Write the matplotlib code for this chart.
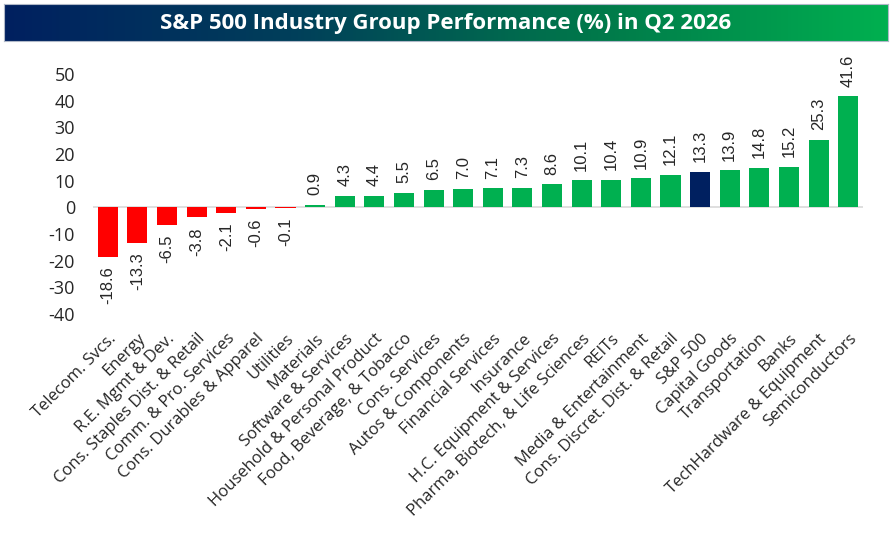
import numpy as np
import matplotlib.pyplot as plt
from matplotlib.colors import LinearSegmentedColormap

categories = [
    "Telecom. Svcs.", "Energy", "R.E. Mgmt & Dev.", "Cons. Staples Dist. & Retail",
    "Comm. & Pro. Services", "Cons. Durables & Apparel", "Utilities", "Materials",
    "Software & Services", "Household & Personal Product", "Food, Beverage, & Tobacco",
    "Cons. Services", "Autos & Components", "Financial Services", "Insurance",
    "H.C. Equipment & Services", "Pharma, Biotech, & Life Sciences", "REITs",
    "Media & Entertainment", "Cons. Discret. Dist. & Retail", "S&P 500",
    "Capital Goods", "Transportation", "Banks", "TechHardware & Equipment",
    "Semiconductors",
]
values = [-18.6, -13.3, -6.5, -3.8, -2.1, -0.6, -0.1, 0.9, 4.3, 4.4, 5.5, 6.5,
          7.0, 7.1, 7.3, 8.6, 10.1, 10.4, 10.9, 12.1, 13.3, 13.9, 14.8, 15.2,
          25.3, 41.6]
yticks = [-40, -30, -20, -10, 0, 10, 20, 30, 40, 50]
title = "S&P 500 Industry Group Performance (%) in Q2 2026"
benchmark = "S&P 500"

RED = "#FF0000"
GREEN = "#00B050"
NAVY = "#002060"
TXT = "#262626"

W, H = 892, 536
fig = plt.figure(figsize=(W / 100, H / 100), dpi=100)

# title banner with horizontal gradient
bx0, by0, bx1, by1 = 4, 4, 888, 41
bax = fig.add_axes([bx0 / W, 1 - by1 / H, (bx1 - bx0) / W, (by1 - by0) / H])
grad = np.linspace(0, 1, 256).reshape(1, -1)
cmap = LinearSegmentedColormap.from_list("banner", [NAVY, "#00405A", "#00784A", GREEN])
bax.imshow(grad, aspect="auto", cmap=cmap, extent=[0, 1, 0, 1])
bax.set_xlim(0, 1)
bax.set_ylim(0, 1)
bax.set_xticks([])
bax.set_yticks([])
for s in bax.spines.values():
    s.set_color("#B0B8C8")
    s.set_linewidth(0.8)
bax.text(0.5, 0.48, title, color="white", fontsize=16, fontweight="bold",
         family="Open Sans", ha="center", va="center")

# main axes: x from 93 to 863 px, y from 74 (50) to 314 (-40)
ax = fig.add_axes([93 / W, 1 - 314 / H, (863 - 93) / W, (314 - 74) / H])
x = np.arange(len(categories))
colors = [NAVY if c == benchmark else (GREEN if v >= 0 else RED)
          for c, v in zip(categories, values)]
ax.bar(x, values, width=0.68, color=colors, zorder=2)
ax.axhline(0, color="#D9D9D9", linewidth=1.2, zorder=1)

ax.set_xlim(-0.5, len(categories) - 0.5)
ax.set_ylim(-40, 50)
ax.set_yticks(yticks)
ax.set_yticklabels([str(t) for t in yticks], fontsize=13, color=TXT,
                   family="Open Sans")
ax.tick_params(axis="y", length=0, pad=13)
ax.set_xticks(x)
ax.set_xticklabels(categories, rotation=45, ha="right", rotation_mode="anchor",
                   fontsize=12, color=TXT, family="Open Sans")
ax.tick_params(axis="x", length=0, pad=12)
for s in ax.spines.values():
    s.set_visible(False)

for xi, v in zip(x, values):
    up = v >= 0
    ax.annotate(f"{v:.1f}", (xi, v), xytext=(0, 7 if up else -7),
                textcoords="offset points", rotation=90, ha="center",
                va="bottom" if up else "top", fontsize=12, color=TXT,
                family="Liberation Sans", annotation_clip=False)

fig.savefig("out.png", dpi=100)
